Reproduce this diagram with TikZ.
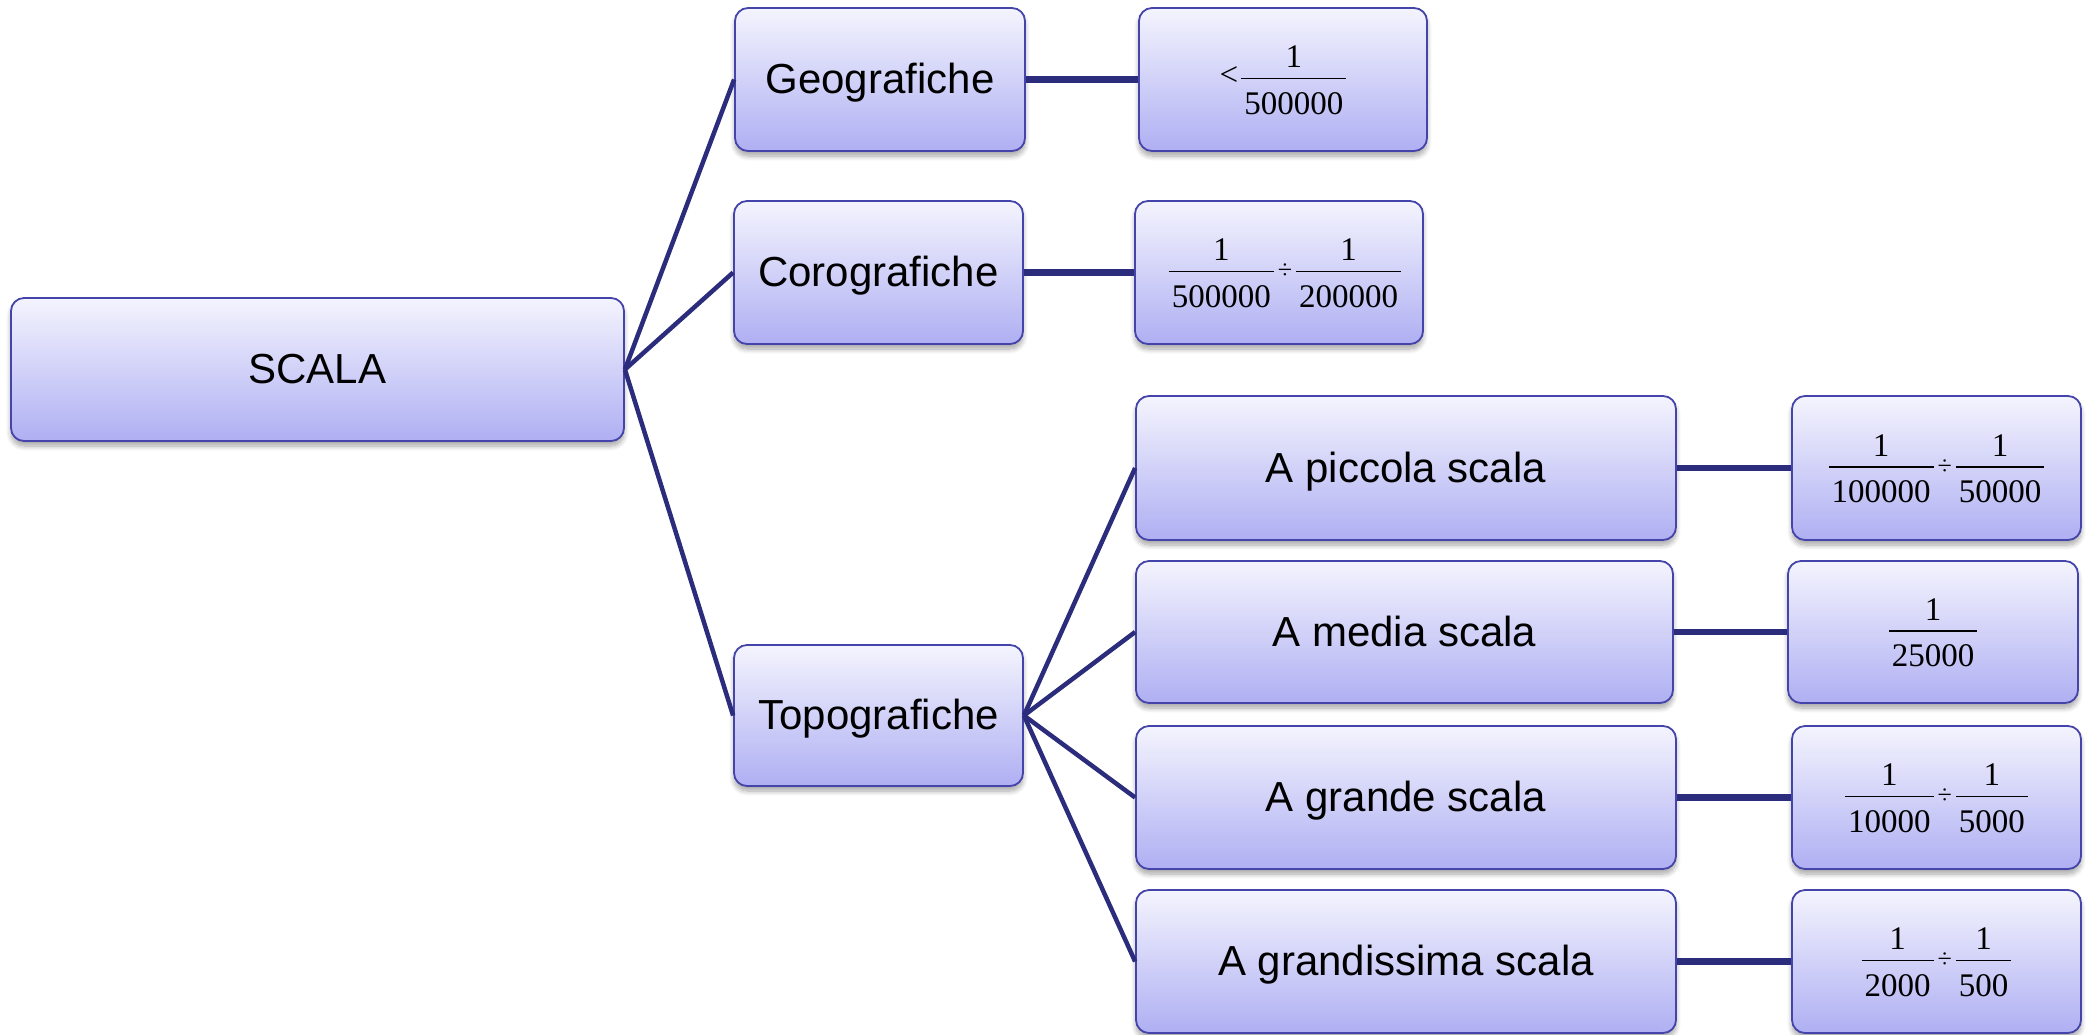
\documentclass[tikz,border=0pt]{standalone}
\usepackage{fontspec}
\setmainfont{Liberation Sans}
\newfontfamily\serifnum{Liberation Serif}
\usetikzlibrary{shadows.blur}

\definecolor{boxline}{HTML}{4444AA}
\definecolor{boxtop}{HTML}{F4F4FE}
\definecolor{boxbot}{HTML}{AFAFF3}
\definecolor{linkcol}{HTML}{2B2C7C}

% stacked fraction set in Times-like digits
\newcommand\fr[2]{{\setlength{\arrayrulewidth}{1.3pt}\renewcommand\arraystretch{0}%
  \begin{tabular}{@{\hspace{3pt}}c@{\hspace{3pt}}}%
    \rule[-10pt]{0pt}{44pt}#1\\\hline
    \rule[-11pt]{0pt}{46pt}#2\end{tabular}}}
\newcommand\dv{\hspace{4pt}{\fontsize{26}{26}\selectfont ÷}\hspace{4pt}}

\begin{document}
\begin{tikzpicture}[x=1pt,y=-1pt,
  card/.style={draw=boxline, line width=1.8pt, rounded corners=13pt,
    top color=boxtop, bottom color=boxbot, inner sep=0pt,
    blur shadow={shadow xshift=0pt, shadow yshift=-5pt, shadow blur radius=5pt,
      shadow blur steps=8, shadow opacity=35}},
  label/.style={card, font=\fontsize{42}{48}\selectfont, text height=30pt, text depth=2pt},
  ratio/.style={card, font=\serifnum\fontsize{33}{36}\selectfont},
  branch/.style={draw=linkcol, line width=4.5pt},
  tie/.style={draw=linkcol, line width=6.5pt}]

\useasboundingbox (0,0) rectangle (2089,1034);

% root
\node[label, minimum width=613pt, minimum height=143pt] (scala) at (317.5,369.5) {SCALA};

% first level
\node[label, minimum width=290pt, minimum height=143pt] (geo)  at (880,79.5)  {Geografiche};
\node[label, minimum width=289pt, minimum height=143pt] (coro) at (878.5,272.5) {Corografiche};
\node[label, minimum width=289pt, minimum height=141pt] (topo) at (878.5,715.5) {Topografiche};

% ratios of the first level
\node[ratio, minimum width=288pt, minimum height=143pt] (geoR)  at (1283,79.5)
  {<\hspace{3pt}\fr{1}{500000}};
\node[ratio, minimum width=288pt, minimum height=143pt] (coroR) at (1279,272.5)
  {\hspace{12pt}\fr{1}{500000}\dv\fr{1}{200000}};

% topographic classes
\node[label, minimum width=540pt, minimum height=144pt] (pic) at (1406,468)   {A piccola scala};
\node[label, minimum width=537pt, minimum height=142pt] (med) at (1404.5,632) {A media scala};
\node[label, minimum width=540pt, minimum height=143pt] (gra) at (1406,797.5) {A grande scala};
\node[label, minimum width=540pt, minimum height=143pt] (grd) at (1406,961.5) {A grandissima scala};

% their ratios
\node[ratio, minimum width=289pt, minimum height=144pt] (picR) at (1936.5,468)
  {\fr{1}{100000}\dv\fr{1}{50000}};
\node[ratio, minimum width=290pt, minimum height=142pt] (medR) at (1933,632)
  {\fr{1}{25000}};
\node[ratio, minimum width=289pt, minimum height=143pt] (graR) at (1936.5,797.5)
  {\fr{1}{10000}\dv\fr{1}{5000}};
\node[ratio, minimum width=289pt, minimum height=143pt] (grdR) at (1936.5,961.5)
  {\fr{1}{2000}\dv\fr{1}{500}};

% connectors
\draw[branch] (scala.east) -- (geo.west);
\draw[branch] (scala.east) -- (coro.west);
\draw[branch] (scala.east) -- (topo.west);
\draw[branch] (topo.east) -- (pic.west);
\draw[branch] (topo.east) -- (med.west);
\draw[branch] (topo.east) -- (gra.west);
\draw[branch] (topo.east) -- (grd.west);

\draw[tie] (geo.east)  -- (geoR.west);
\draw[tie] (coro.east) -- (coroR.west);
\draw[tie] (pic.east)  -- (picR.west);
\draw[tie] (med.east)  -- (medR.west);
\draw[tie] (gra.east)  -- (graR.west);
\draw[tie] (grd.east)  -- (grdR.west);
\end{tikzpicture}
\end{document}
